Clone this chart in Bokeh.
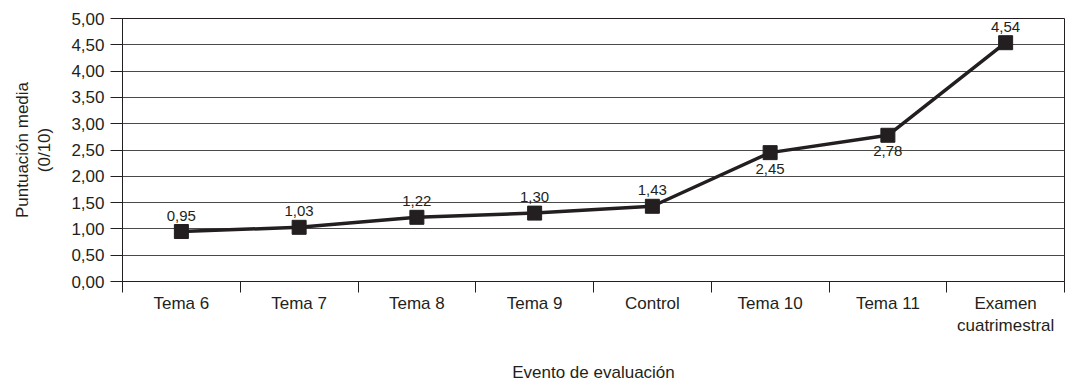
from bokeh.plotting import figure
from bokeh.models import Range1d, FixedTicker, ColumnDataSource, LabelSet
from bokeh.core.properties import value
from bokeh.embed import file_html
from bokeh.resources import INLINE

# Evaluation events and mean scores (out of 10)
categories = ["Tema 6", "Tema 7", "Tema 8", "Tema 9", "Control",
              "Tema 10", "Tema 11", "Examen\ncuatrimestral"]
scores = [0.95, 1.03, 1.22, 1.30, 1.43, 2.45, 2.78, 4.54]
# value labels drawn below the marker for these events
labels_below = ["Tema 10", "Tema 11"]
y_ticks = [0.0, 0.5, 1.0, 1.5, 2.0, 2.5, 3.0, 3.5, 4.0, 4.5, 5.0]

INK = "#231f20"
FONT = "Liberation Sans"
AXIS_PX = "17px"
LABEL_PX = "15px"


def fmt(v):
    return f"{v:.2f}".replace(".", ",")


xs = [i + 0.5 for i in range(len(categories))]
src = ColumnDataSource(dict(x=xs, y=scores))


def subset(keep):
    rows = [(x, v) for x, v, c in zip(xs, scores, categories) if keep(c)]
    return ColumnDataSource(dict(x=[r[0] for r in rows],
                                 y=[r[1] for r in rows],
                                 lab=[fmt(r[1]) for r in rows]))


above = subset(lambda c: c not in labels_below)
below = subset(lambda c: c in labels_below)

p = figure(width=1071, height=385, output_backend="svg", toolbar_location=None,
           x_range=Range1d(0, len(categories)), y_range=Range1d(0, 5),
           min_border_left=122, min_border_right=7, min_border_top=18,
           min_border_bottom=104)
p.background_fill_color = "white"
p.border_fill_color = "white"
p.outline_line_color = INK
p.outline_line_width = 1

# x axis: labels centred on each event, ticks on the boundaries between events
xa = p.xaxis[0]
xa.ticker = FixedTicker(ticks=xs, minor_ticks=list(range(len(categories) + 1)))
xa.major_label_overrides = {x: c for x, c in zip(xs, categories)}
xa.major_tick_out = 0
xa.major_tick_in = 0
xa.minor_tick_out = 11
xa.minor_tick_in = 0
xa.minor_tick_line_color = INK
xa.axis_line_color = INK
xa.major_label_text_font = FONT
xa.major_label_text_font_size = AXIS_PX
xa.major_label_text_color = INK
xa.major_label_standoff = 1
xa.axis_label = "Evento de evaluación"
xa.axis_label_text_font = FONT
xa.axis_label_text_font_size = AXIS_PX
xa.axis_label_text_font_style = "normal"
xa.axis_label_text_color = INK
xa.axis_label_standoff = 25

ya = p.yaxis[0]
ya.ticker = FixedTicker(ticks=y_ticks, minor_ticks=[])
ya.major_label_overrides = {t: fmt(t) for t in y_ticks}
ya.major_tick_out = 12
ya.major_tick_in = 0
ya.major_tick_line_color = INK
ya.axis_line_color = INK
ya.major_label_text_font = FONT
ya.major_label_text_font_size = AXIS_PX
ya.major_label_text_color = INK
ya.major_label_standoff = 6
ya.axis_label = "Puntuación media\n(0/10)"
ya.axis_label_text_font = FONT
ya.axis_label_text_font_size = AXIS_PX
ya.axis_label_text_font_style = "normal"
ya.axis_label_text_color = INK
ya.axis_label_standoff = 14

p.xgrid.visible = False
p.ygrid.ticker = FixedTicker(ticks=y_ticks)
p.ygrid.grid_line_color = "#4a4a4a"
p.ygrid.grid_line_width = 1

p.line("x", "y", source=src, line_color=INK, line_width=3.5)
p.scatter("x", "y", source=src, marker="square", size=14,
          fill_color=INK, line_color=INK)

common = dict(text_align="center", text_font=value(FONT),
              text_font_size=value(LABEL_PX), text_color=INK)
p.add_layout(LabelSet(x="x", y="y", text="lab", source=above,
                      text_baseline="bottom", y_offset=11, **common))
p.add_layout(LabelSet(x="x", y="y", text="lab", source=below,
                      text_baseline="top", y_offset=-11, **common))

open("out.html", "w").write(file_html(p, INLINE))
